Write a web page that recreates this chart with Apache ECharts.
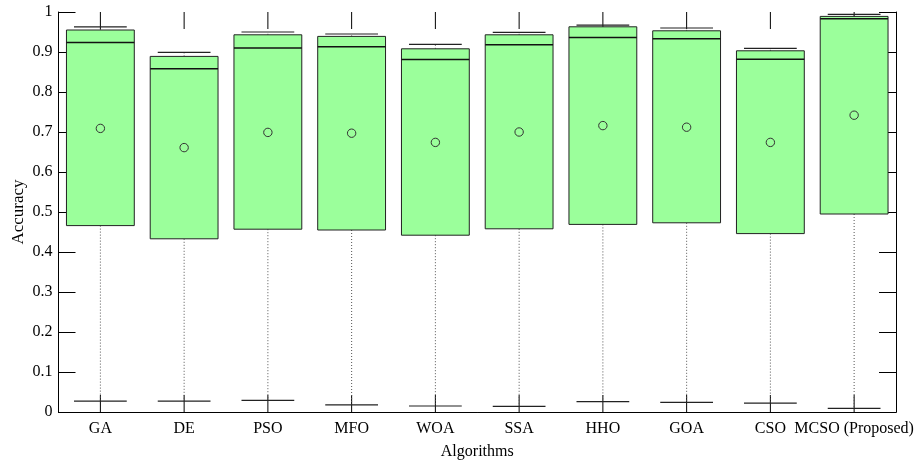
<!DOCTYPE html>
<html>
<head>
<meta charset="utf-8">
<script src="https://cdn.jsdelivr.net/npm/echarts@6/dist/echarts.min.js"></script>
<style>
  html, body { margin: 0; padding: 0; background: #fff; }
  #chart { width: 917px; height: 464px; }
</style>
</head>
<body>
<div id="chart"></div>
<script>
const algorithms = ['GA', 'DE', 'PSO', 'MFO', 'WOA', 'SSA', 'HHO', 'GOA', 'CSO', 'MCSO (Proposed)'];
const minVals    = [0.027, 0.027, 0.029, 0.018, 0.015, 0.014, 0.026, 0.024, 0.022, 0.009];
const q1Vals     = [0.466, 0.433, 0.457, 0.455, 0.442, 0.458, 0.469, 0.473, 0.446, 0.495];
const medianVals = [0.924, 0.858, 0.910, 0.913, 0.881, 0.918, 0.936, 0.933, 0.882, 0.983];
const q3Vals     = [0.955, 0.889, 0.943, 0.939, 0.908, 0.943, 0.963, 0.953, 0.903, 0.989];
const maxVals    = [0.963, 0.899, 0.950, 0.945, 0.919, 0.949, 0.967, 0.960, 0.909, 0.994];
const meanVals   = [0.709, 0.661, 0.699, 0.697, 0.674, 0.700, 0.716, 0.712, 0.674, 0.742];
const yTicks = ['0', '0.1', '0.2', '0.3', '0.4', '0.5', '0.6', '0.7', '0.8', '0.9', '1'];

const boxData = algorithms.map((name, i) => [i, minVals[i], q1Vals[i], medianVals[i], q3Vals[i], maxVals[i], meanVals[i]]);

const font = 'Liberation Serif';
const chart = echarts.init(document.getElementById('chart'));

const renderBox = (params, api) => {
    const idx = api.value(0);
    const band = api.size([1, 0])[0];
    const boxHalf = band * 0.405;
    const capHalf = band * 0.315;
    const tickLen = 17;
    const pMin = api.coord([idx, api.value(1)]);
    const pQ1 = api.coord([idx, api.value(2)]);
    const pMed = api.coord([idx, api.value(3)]);
    const pQ3 = api.coord([idx, api.value(4)]);
    const pMax = api.coord([idx, api.value(5)]);
    const pMean = api.coord([idx, api.value(6)]);
    const pBottom = api.coord([idx, 0]);
    const pTop = api.coord([idx, 1]);
    const cx = pQ1[0];
    const dotted = {stroke: '#555', lineWidth: 1, lineDash: [1, 2]};
    const cap = {stroke: '#222', lineWidth: 1.2};
    const tick = {stroke: '#000', lineWidth: 1};
    return {
        type: 'group',
        children: [
            // category ticks on the bottom and top frame
            {type: 'line', z2: 0, shape: {x1: cx, y1: pBottom[1], x2: cx, y2: pBottom[1] - tickLen}, style: tick},
            {type: 'line', z2: 0, shape: {x1: cx, y1: pTop[1], x2: cx, y2: pTop[1] + tickLen}, style: tick},
            {type: 'line', z2: 1, shape: {x1: cx, y1: pQ1[1], x2: cx, y2: pMin[1]}, style: dotted},
            {type: 'line', z2: 1, shape: {x1: cx, y1: pQ3[1], x2: cx, y2: pMax[1]}, style: dotted},
            {type: 'line', z2: 2, shape: {x1: cx - capHalf, y1: pMin[1], x2: cx + capHalf, y2: pMin[1]}, style: cap},
            {type: 'line', z2: 2, shape: {x1: cx - capHalf, y1: pMax[1], x2: cx + capHalf, y2: pMax[1]}, style: cap},
            {
                type: 'rect',
                z2: 3,
                shape: {x: cx - boxHalf, y: pQ3[1], width: boxHalf * 2, height: pQ1[1] - pQ3[1]},
                style: {fill: '#9bff9b', stroke: '#222', lineWidth: 1},
            },
            {type: 'line', z2: 4, shape: {x1: cx - boxHalf, y1: pMed[1], x2: cx + boxHalf, y2: pMed[1]}, style: {stroke: '#111', lineWidth: 1.5}},
            {type: 'circle', z2: 4, shape: {cx: pMean[0], cy: pMean[1], r: 4.2}, style: {fill: 'none', stroke: '#333', lineWidth: 1}},
        ],
    };
};

chart.setOption({
    animation: false,
    textStyle: {fontFamily: font},
    grid: {left: 58.5, right: 21, top: 12, bottom: 52, outerBoundsMode: 'none', containLabel: false},
    xAxis: [
        {
            type: 'category',
            data: algorithms,
            position: 'bottom',
            name: 'Algorithms',
            nameLocation: 'middle',
            nameGap: 32,
            nameMoveOverlap: false,
            nameTextStyle: {fontFamily: font, fontSize: 16, color: '#000'},
            axisLine: {show: true, lineStyle: {color: '#000', width: 1}},
            axisTick: {show: false},
            axisLabel: {interval: 0, margin: 9, fontFamily: font, fontSize: 16, color: '#000'},
            splitLine: {show: false},
        },
        {
            type: 'category',
            data: algorithms,
            position: 'top',
            axisLine: {show: true, lineStyle: {color: '#000', width: 1}},
            axisTick: {show: false},
            axisLabel: {show: false},
        },
    ],
    yAxis: [
        {
            type: 'value',
            min: 0,
            max: 1,
            interval: 0.1,
            name: 'Accuracy',
            nameLocation: 'middle',
            nameGap: 31,
            nameMoveOverlap: false,
            nameTextStyle: {fontFamily: font, fontSize: 17, color: '#000'},
            axisLine: {show: true, lineStyle: {color: '#000', width: 1}},
            axisTick: {show: true, inside: true, length: 17, lineStyle: {color: '#000'}},
            axisLabel: {
                margin: 6,
                fontFamily: font,
                fontSize: 16,
                color: '#000',
                formatter: value => yTicks[Math.round(value * 10)],
            },
            splitLine: {show: false},
        },
        {
            type: 'value',
            min: 0,
            max: 1,
            interval: 0.1,
            position: 'right',
            axisLine: {show: true, lineStyle: {color: '#000', width: 1}},
            axisTick: {show: true, inside: true, length: 17, lineStyle: {color: '#000'}},
            axisLabel: {show: false},
            splitLine: {show: false},
        },
    ],
    series: [
        {
            type: 'custom',
            renderItem: renderBox,
            encode: {x: 0, y: [1, 2, 3, 4, 5, 6]},
            data: boxData,
            z: 5,
        },
    ],
});
</script>
</body>
</html>
